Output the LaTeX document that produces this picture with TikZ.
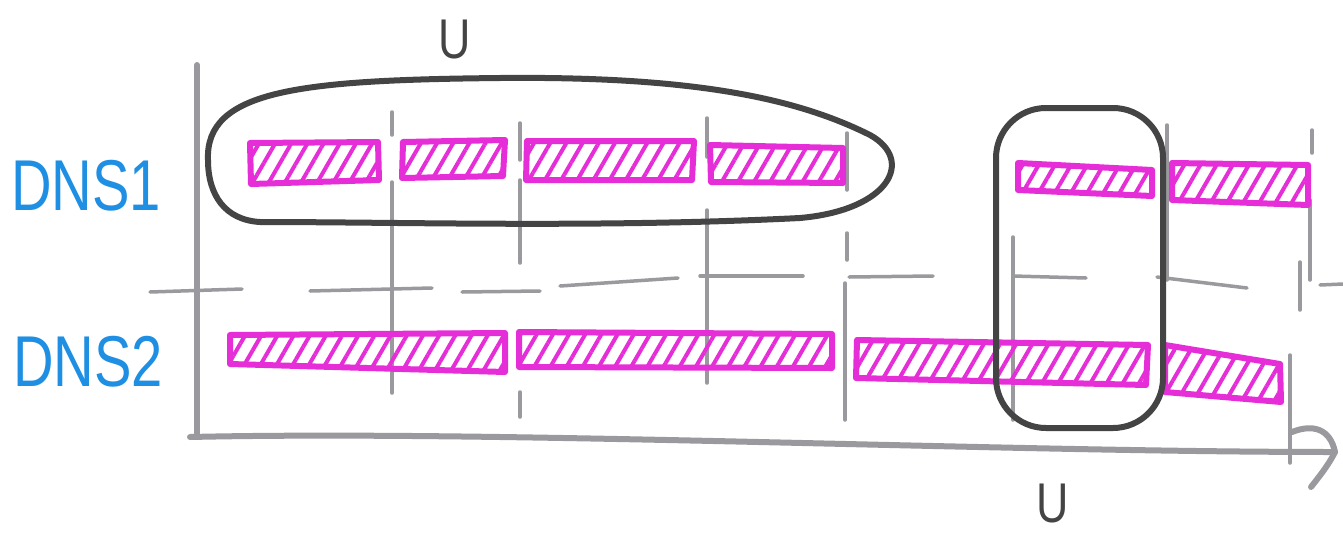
\documentclass[tikz,border=0pt]{standalone}
\usepackage{fontspec}
\setmainfont{Liberation Sans}
\usetikzlibrary{patterns.meta}
\definecolor{dnsblue}{HTML}{1E8FE3}
\definecolor{hmag}{HTML}{E62ED8}
\definecolor{grid}{HTML}{9A9A9E}
\definecolor{ink}{HTML}{444444}
\tikzset{
  gridline/.style={draw=grid, line width=3.5pt, line cap=round},
  axisline/.style={draw=grid, line width=6pt, line cap=round, line join=round},
  bar/.style={draw=hmag, line width=6pt, line join=round,
    pattern={Lines[angle=60,distance=14pt,line width=4pt]}, pattern color=hmag},
  group/.style={draw=ink, line width=6pt},
  rowlabel/.style={text=dnsblue, font=\fontsize{72}{72}\selectfont, xscale=0.78, inner sep=0pt},
  ulabel/.style={text=ink, font=\fontsize{56}{56}\selectfont, xscale=0.8, inner sep=0pt}
}
\begin{document}
\begin{tikzpicture}[x=1pt,y=-1pt]
\useasboundingbox (0,0) rectangle (1343,536);
\fill[white] (0,0) rectangle (1343,536);

% dashed middle line
\foreach \a/\b/\c/\d in {150/292/242/289, 310/291/432/288, 462/292/540/291, 560/286/678/278,
   700/276/803/276, 849/277/933/276, 1013/276/1086/278, 1157/277/1247/288, 1320/285/1343/284}
  \draw[gridline] (\a,\b) -- (\c,\d);

% vertical grid lines
\foreach \x/\a/\b in {392/112/135, 392/182/393, 520/123/160, 520/180/263, 520/392/417,
   707/118/157, 707/210/383, 847/133/190, 847/233/260, 845/283/420,
   1013/237/420, 1167/125/280, 1312/130/153, 1310/200/280, 1300/262/310, 1290/355/463}
  \draw[gridline] (\x,\a) -- (\x,\b);

% axes
\coordinate (yTop) at (197,65);
\coordinate (yBot) at (197,435);
\coordinate (xL) at (190,437);
\coordinate (xR) at (1335,452);
\draw[axisline] (yTop) -- (yBot);
\draw[axisline] (xL) .. controls (500,430) and (1000,452) .. (xR);
\coordinate (tipA) at (1292,432);
\coordinate (tipB) at (1311,487);
\draw[axisline] (tipA) .. controls (1312,424) and (1330,428) .. (xR) .. controls (1328,466) and (1318,478) .. (tipB);

% DNS1 bars
\draw[bar] (250,143) -- (378,142) -- (379,180) -- (251,184) -- cycle;
\draw[bar] (403,142) -- (505,140) -- (503,176) -- (402,178) -- cycle;
\draw[bar] (527,141) -- (694,141) -- (692,180) -- (526,180) -- cycle;
\draw[bar] (710,145) -- (843,148) -- (843,183) -- (711,182) -- cycle;
\draw[bar] (1018,163) -- (1152,170) -- (1152,196) -- (1018,190) -- cycle;
\draw[bar] (1172,163) -- (1308,165) -- (1308,205) -- (1172,200) -- cycle;

% DNS2 bars
\draw[bar] (230,335) -- (505,333) -- (505,372) -- (230,364) -- cycle;
\draw[bar] (519,332) -- (832,334) -- (832,368) -- (519,367) -- cycle;
\draw[bar] (857,340) -- (1148,345) -- (1146,385) -- (856,378) -- cycle;
\draw[bar] (1165,345) -- (1280,364) -- (1281,402) -- (1165,392) -- cycle;

% groupings
\draw[group] (208,160) .. controls (205,90) and (300,80) .. (500,78)
   .. controls (700,76) and (800,100) .. (870,135)
   .. controls (915,160) and (890,210) .. (800,218)
   .. controls (600,228) and (400,222) .. (260,222)
   .. controls (225,220) and (208,195) .. (208,160) -- cycle;
\draw[group, rounded corners=50pt] (996,108) rectangle (1163,428);

% labels
\node[rowlabel] (dns1) at (86,186) {DNS1};
\node[rowlabel] (dns2) at (88,362) {DNS2};
\node[ulabel, anchor=base] (uTop) at (455,58) {U};
\node[ulabel, anchor=base] (uBot) at (1053,522) {U};
\end{tikzpicture}
\end{document}
